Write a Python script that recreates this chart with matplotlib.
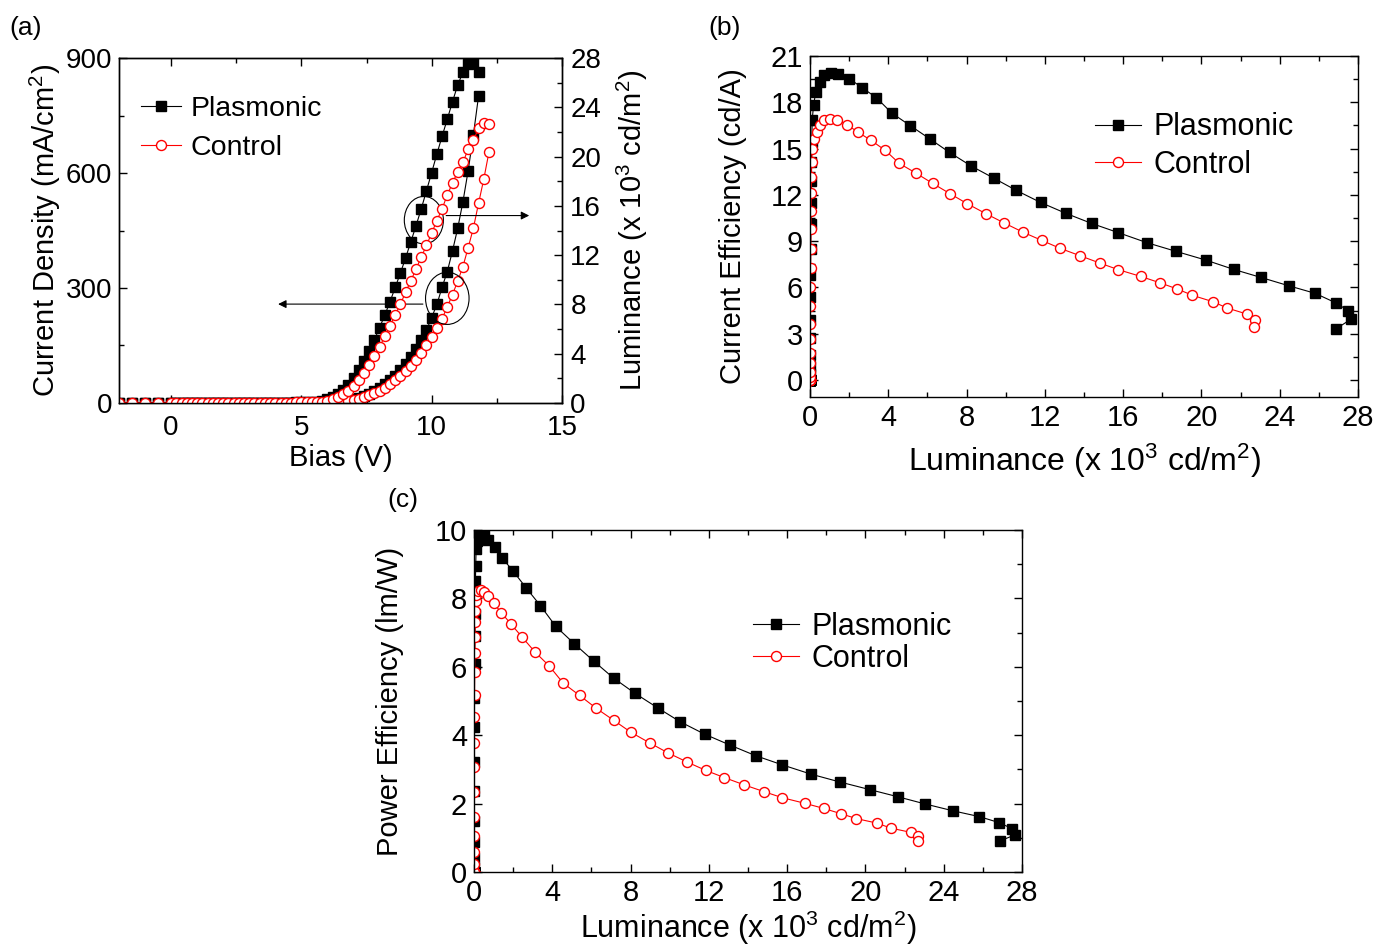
import numpy as np
import matplotlib
matplotlib.use("Agg")
import matplotlib.pyplot as plt
from matplotlib.patches import Ellipse
from matplotlib.ticker import MultipleLocator

plt.rcParams['font.family'] = ['Liberation Sans', 'DejaVu Sans']
plt.rcParams['mathtext.default'] = 'regular'
plt.rcParams['xtick.direction'] = 'in'
plt.rcParams['ytick.direction'] = 'in'
plt.rcParams['axes.linewidth'] = 1.0

# bias grid (V)
bias = [-2.0, -1.5, -1.0, -0.5, 0.0, 0.2, 0.4, 0.6, 0.8, 1.0, 1.2, 1.4, 1.6, 1.8,
        2.0, 2.2, 2.4, 2.6, 2.8, 3.0, 3.2, 3.4, 3.6, 3.8, 4.0, 4.2, 4.4, 4.6,
        4.8, 5.0, 5.2, 5.4, 5.6, 5.8, 6.0, 6.2, 6.4, 6.6, 6.8, 7.0, 7.2, 7.4,
        7.6, 7.8, 8.0, 8.2, 8.4, 8.6, 8.8, 9.0, 9.2, 9.4, 9.6, 9.8, 10.0, 10.2,
        10.4, 10.6, 10.8, 11.0, 11.2, 11.4, 11.6, 11.8, 12.0, 12.2]

# plasmonic device (up to 11.8 V)
j_plas = [0, 0, 0, 0, 0, 0, 0, 0, 0, 0, 0, 0, 0, 0, 0, 0, 0, 0,
          0.5, 0.5, 0.4, 0.4, 0.3, 0.3, 0.3, 0.3, 0.35, 0.4,
          0.45, 0.5, 0.55, 0.6, 0.65, 1.0, 1.6, 2.5, 3.6, 5.3,
          7.3, 10.3, 14.0, 18.5, 24.2, 31.1, 39.1, 48.3, 59.1, 71.7,
          85.8, 102, 121, 141, 164, 190, 223, 257, 302, 343,
          397, 456, 525, 606, 699, 801]
lum_plas = [0, 0, 0, 0, 0, 0, 0, 0, 0, 0, 0, 0, 0, 0, 0, 0, 0, 0,
            0.001, 0.002, 0.003, 0.005, 0.008, 0.012, 0.016, 0.022, 0.03, 0.04,
            0.05, 0.06, 0.075, 0.09, 0.11, 0.18, 0.29, 0.49, 0.71, 1.06,
            1.44, 2.01, 2.66, 3.39, 4.18, 5.13, 6.11, 7.13, 8.21, 9.38,
            10.54, 11.78, 13.08, 14.39, 15.76, 17.22, 18.70, 20.21, 21.65, 23.04,
            24.46, 25.81, 26.85, 27.51, 27.62, 26.89]
ce_plas = [0, 0, 0, 0, 0, 0, 0, 0, 0, 0, 0, 0, 0, 0, 0, 0, 0, 0,
           0.1, 0.4, 0.9, 1.6, 2.7, 3.9, 5.4, 6.8, 8.5, 10.1,
           11.5, 12.9, 14.1, 15.4, 16.85, 17.8, 18.64, 19.33, 19.77, 19.92,
           19.85, 19.53, 18.95, 18.30, 17.30, 16.48, 15.64, 14.75, 13.89, 13.09,
           12.29, 11.51, 10.80, 10.15, 9.55, 8.90, 8.34, 7.78, 7.17, 6.65,
           6.11, 5.62, 5.01, 4.49, 3.93, 3.33]
pe_plas = [0, 0, 0, 0, 0, 0, 0, 0, 0, 0, 0, 0, 0, 0, 0, 0, 0, 0,
           0.11, 0.42, 0.88, 1.48, 2.36, 3.22, 4.24, 5.09, 6.07, 6.9,
           7.53, 8.1, 8.52, 8.96, 9.45, 9.69, 9.82, 9.84, 9.71, 9.50,
           9.18, 8.79, 8.31, 7.79, 7.18, 6.67, 6.17, 5.67, 5.23, 4.80,
           4.39, 4.03, 3.71, 3.40, 3.13, 2.86, 2.63, 2.41, 2.20, 1.99,
           1.79, 1.62, 1.44, 1.26, 1.08, 0.91]

# control device (up to 12.2 V)
j_ctrl = [0, 0, 0, 0, 0, 0, 0, 0, 0, 0, 0, 0, 0, 0, 0, 0, 0, 0,
          0.5, 0.37, 0.28, 0.29, 0.3, 0.33, 0.33, 0.36, 0.39, 0.41,
          0.46, 0.5, 0.54, 0.57, 0.6, 0.73, 1.28, 2.1, 3.0, 4.2,
          5.9, 8.3, 11.4, 15.3, 20.1, 25.9, 32.5, 40.2, 49.1, 59.2,
          70.3, 83.4, 97.4, 113, 131, 150, 171, 195, 220, 251,
          283, 318, 356, 405, 456, 521, 584, 655]
lum_ctrl = [0, 0, 0, 0, 0, 0, 0, 0, 0, 0, 0, 0, 0, 0, 0, 0, 0, 0,
            0.001, 0.002, 0.003, 0.005, 0.008, 0.012, 0.016, 0.022, 0.028, 0.035,
            0.045, 0.055, 0.065, 0.075, 0.085, 0.11, 0.20, 0.34, 0.5, 0.7,
            1.0, 1.4, 1.89, 2.47, 3.12, 3.85, 4.56, 5.40, 6.26, 7.15,
            8.03, 8.99, 9.92, 10.87, 11.84, 12.79, 13.79, 14.81, 15.76, 16.89,
            17.86, 18.77, 19.54, 20.58, 21.31, 22.31, 22.71, 22.67]
ce_ctrl = [0, 0, 0, 0, 0, 0, 0, 0, 0, 0, 0, 0, 0, 0, 0, 0, 0, 0,
           0.2, 0.54, 1.08, 1.73, 2.66, 3.65, 4.82, 6.03, 7.24, 8.47,
           9.79, 10.97, 12.1, 13.13, 14.1, 14.97, 15.64, 16.1, 16.55, 16.85,
           16.95, 16.85, 16.55, 16.05, 15.53, 14.88, 14.04, 13.42, 12.75, 12.08,
           11.43, 10.78, 10.18, 9.59, 9.05, 8.53, 8.06, 7.58, 7.15, 6.72,
           6.31, 5.90, 5.49, 5.08, 4.67, 4.28, 3.89, 3.46]
pe_ctrl = [0, 0, 0, 0, 0, 0, 0, 0, 0, 0, 0, 0, 0, 0, 0, 0, 0, 0,
           0.22, 0.57, 1.04, 1.62, 2.34, 3.06, 3.78, 4.52, 5.18, 5.85,
           6.4, 6.86, 7.3, 7.63, 7.92, 8.1, 8.2, 8.24, 8.19, 8.06,
           7.86, 7.58, 7.25, 6.86, 6.43, 6.02, 5.52, 5.16, 4.78, 4.43,
           4.08, 3.77, 3.48, 3.22, 2.97, 2.76, 2.55, 2.35, 2.17, 2.01,
           1.86, 1.70, 1.56, 1.43, 1.28, 1.16, 1.04, 0.91]

v_plas = bias[:len(j_plas)]
v_ctrl = bias[:len(j_ctrl)]

sq = dict(color='black', marker='s', ms=6.5, lw=0.8)
ci = dict(color='red', marker='o', ms=7.2, mfc='white', mew=1.0, lw=0.8)
lum_label = 'Luminance (x 10$^3$ cd/m$^2$)'


def style(ax, fs):
    ax.tick_params(which='both', top=True, right=True, labelsize=fs, pad=5)
    ax.tick_params(which='major', length=6, width=1)
    ax.tick_params(which='minor', length=3.5, width=1)


fig = plt.figure(figsize=(13.79, 9.48), dpi=100)

# (a) J-V-L
ax_a = fig.add_axes([0.0863, 0.5749, 0.3212, 0.3639])
ax_a2 = ax_a.twinx()
ax_a.plot(v_plas, j_plas, label='Plasmonic', **sq)
ax_a.plot(v_ctrl, j_ctrl, label='Control', **ci)
ax_a2.plot(v_plas, lum_plas, **sq)
ax_a2.plot(v_ctrl, lum_ctrl, **ci)
ax_a.set_xlim(-2, 15)
ax_a.set_ylim(0, 900)
ax_a2.set_ylim(0, 28)
ax_a.xaxis.set_major_locator(MultipleLocator(5))
ax_a.xaxis.set_minor_locator(MultipleLocator(2.5))
ax_a.yaxis.set_major_locator(MultipleLocator(300))
ax_a.yaxis.set_minor_locator(MultipleLocator(150))
ax_a2.yaxis.set_major_locator(MultipleLocator(4))
ax_a2.yaxis.set_minor_locator(MultipleLocator(2))
ax_a.tick_params(which='both', top=True, right=False, labelsize=20, pad=5)
ax_a.tick_params(axis='x', pad=9)
ax_a.tick_params(which='major', length=6, width=1)
ax_a.tick_params(which='minor', length=3.5, width=1)
ax_a2.tick_params(which='both', labelsize=20, pad=6)
ax_a2.tick_params(which='major', length=6, width=1)
ax_a2.tick_params(which='minor', length=3.5, width=1)
ax_a.set_xlabel('Bias (V)', fontsize=21, labelpad=2)
ax_a.set_ylabel('Current Density (mA/cm$^2$)', fontsize=21, labelpad=2)
ax_a2.set_ylabel(lum_label, fontsize=21, labelpad=10)
ax_a.add_patch(Ellipse((9.7, 477), 1.5, 124, fill=False, ec='black', lw=0.8, zorder=5))
ax_a.add_patch(Ellipse((10.6, 273), 1.67, 136, fill=False, ec='black', lw=0.8, zorder=5))
ax_a.annotate('', xy=(13.85, 489), xytext=(10.45, 489),
              arrowprops=dict(arrowstyle='-|>', color='black', lw=0.8, mutation_scale=12))
ax_a.annotate('', xy=(4.0, 258), xytext=(9.77, 258),
              arrowprops=dict(arrowstyle='-|>', color='black', lw=0.8, mutation_scale=12))
ax_a.legend(loc='upper left', bbox_to_anchor=(0.05, 0.89), frameon=False, fontsize=20.5,
            handlelength=1.4, handletextpad=0.35, labelspacing=0.45, numpoints=1,
            borderpad=0, borderaxespad=0)

# (b) current efficiency
ax_b = fig.add_axes([0.5874, 0.5812, 0.3974, 0.3597])
ax_b.plot(lum_plas, ce_plas, label='Plasmonic', **sq)
ax_b.plot(lum_ctrl, ce_ctrl, label='Control', **ci)
ax_b.set_xlim(0, 28)
ax_b.set_ylim(-1.1, 21)
ax_b.xaxis.set_major_locator(MultipleLocator(4))
ax_b.xaxis.set_minor_locator(MultipleLocator(2))
ax_b.yaxis.set_major_locator(MultipleLocator(3))
ax_b.yaxis.set_minor_locator(MultipleLocator(1.5))
style(ax_b, 21)
ax_b.set_xlabel(lum_label, fontsize=23, labelpad=7)
ax_b.set_ylabel('Current Efficiency (cd/A)', fontsize=21, labelpad=17)
ax_b.legend(loc='upper left', bbox_to_anchor=(0.52, 0.835), frameon=False, fontsize=22,
            handlelength=1.5, handletextpad=0.4, labelspacing=0.25, numpoints=1,
            borderpad=0, borderaxespad=0)

# (c) power efficiency
ax_c = fig.add_axes([0.3437, 0.0802, 0.3974, 0.3608])
ax_c.plot(lum_plas, pe_plas, label='Plasmonic', **sq)
ax_c.plot(lum_ctrl, pe_ctrl, label='Control', **ci)
ax_c.set_xlim(0, 28)
ax_c.set_ylim(0, 10)
ax_c.xaxis.set_major_locator(MultipleLocator(4))
ax_c.xaxis.set_minor_locator(MultipleLocator(2))
ax_c.yaxis.set_major_locator(MultipleLocator(2))
ax_c.yaxis.set_minor_locator(MultipleLocator(1))
style(ax_c, 21)
ax_c.set_xlabel(lum_label, fontsize=22, labelpad=1)
ax_c.set_ylabel('Power Efficiency (lm/W)', fontsize=21, labelpad=22)
ax_c.legend(loc='upper left', bbox_to_anchor=(0.51, 0.76), frameon=False, fontsize=22,
            handlelength=1.5, handletextpad=0.4, labelspacing=0.05, numpoints=1,
            borderpad=0, borderaxespad=0)

fig.text(0.007, 0.970, '(a)', fontsize=19, va='center')
fig.text(0.514, 0.970, '(b)', fontsize=19, va='center')
fig.text(0.281, 0.473, '(c)', fontsize=19, va='center')

fig.savefig('out.png', dpi=100)
